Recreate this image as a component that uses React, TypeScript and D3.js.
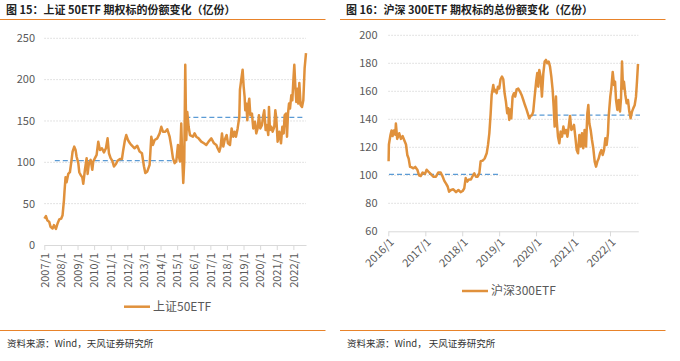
import React, { useEffect, useRef } from "react";
import * as d3 from "d3";

// 上证50ETF 份额（亿份）
const sz50Series: [string, number][] = [
  ["2007-01-04", 32], ["2007-02-06", 35], ["2007-03-07", 30], ["2007-04-20", 28],
  ["2007-05-19", 22], ["2007-07-02", 20], ["2007-08-01", 24], ["2007-09-14", 19.5],
  ["2007-10-20", 26], ["2007-11-26", 31], ["2008-01-09", 32], ["2008-02-07", 36],
  ["2008-03-08", 54], ["2008-03-22", 66], ["2008-04-13", 82], ["2008-05-05", 76],
  ["2008-06-11", 86], ["2008-07-17", 88], ["2008-08-23", 103], ["2008-09-14", 113],
  ["2008-10-21", 119], ["2008-11-19", 115], ["2008-12-11", 107], ["2009-01-18", 99],
  ["2009-02-08", 88], ["2009-03-17", 84], ["2009-04-16", 82], ["2009-05-07", 74],
  ["2009-06-13", 91], ["2009-07-20", 105], ["2009-08-11", 86], ["2009-09-09", 99],
  ["2009-10-16", 103], ["2009-11-22", 91], ["2009-12-13", 101], ["2010-01-19", 105],
  ["2010-02-25", 109], ["2010-04-02", 125], ["2010-05-09", 115], ["2010-06-22", 117],
  ["2010-08-05", 112], ["2010-09-18", 117], ["2010-10-24", 129], ["2010-11-23", 111],
  ["2010-12-30", 105], ["2011-02-04", 102], ["2011-03-13", 95], ["2011-04-26", 98],
  ["2011-06-01", 102], ["2011-07-23", 104], ["2011-09-05", 104], ["2011-10-04", 115],
  ["2011-11-10", 127], ["2011-12-09", 133], ["2012-01-15", 127], ["2012-02-28", 123],
  ["2012-03-28", 121], ["2012-06-09", 117], ["2012-08-07", 120], ["2012-09-27", 113],
  ["2012-11-18", 111], ["2013-01-02", 95], ["2013-01-31", 87], ["2013-03-16", 89],
  ["2013-05-06", 97], ["2013-06-12", 131], ["2013-07-18", 121], ["2013-08-24", 127],
  ["2013-10-22", 129], ["2013-12-12", 135], ["2014-01-18", 143], ["2014-02-23", 137],
  ["2014-04-15", 137], ["2014-05-30", 140], ["2014-07-20", 131], ["2014-08-26", 119],
  ["2014-10-01", 105], ["2014-11-07", 99], ["2014-12-13", 101], ["2015-01-19", 121],
  ["2015-02-10", 107], ["2015-03-04", 101], ["2015-04-02", 147], ["2015-04-24", 105],
  ["2015-05-16", 75], ["2015-06-07", 101], ["2015-06-29", 218], ["2015-07-21", 127],
  ["2015-08-12", 161], ["2015-09-11", 143], ["2015-10-10", 133], ["2015-12-15", 131],
  ["2016-01-20", 135], ["2016-02-26", 131], ["2016-04-17", 129], ["2016-06-15", 125],
  ["2016-08-13", 123], ["2016-10-03", 121], ["2016-11-23", 125], ["2017-01-22", 129],
  ["2017-03-22", 123], ["2017-05-12", 121], ["2017-06-10", 117], ["2017-07-17", 113],
  ["2017-08-15", 119], ["2017-09-14", 135], ["2017-10-13", 119], ["2017-11-11", 127],
  ["2017-12-25", 133], ["2018-01-23", 123], ["2018-03-09", 121], ["2018-04-14", 141],
  ["2018-05-21", 131], ["2018-06-19", 137], ["2018-07-18", 131], ["2018-08-24", 141],
  ["2018-09-30", 155], ["2018-10-14", 188], ["2018-11-12", 200], ["2018-12-12", 212],
  ["2019-01-03", 192], ["2019-01-25", 179], ["2019-02-08", 163], ["2019-03-03", 171],
  ["2019-03-25", 151], ["2019-04-15", 169], ["2019-05-07", 177], ["2019-05-30", 157],
  ["2019-07-05", 159], ["2019-08-03", 141], ["2019-09-09", 149], ["2019-10-08", 135],
  ["2019-11-07", 141], ["2019-12-06", 157], ["2020-01-04", 141], ["2020-02-10", 145],
  ["2020-03-10", 157], ["2020-04-01", 163], ["2020-05-01", 139], ["2020-05-30", 145],
  ["2020-06-28", 133], ["2020-07-13", 167], ["2020-08-04", 139], ["2020-09-03", 143],
  ["2020-10-02", 137], ["2020-11-07", 143], ["2020-11-30", 163], ["2020-12-22", 153],
  ["2021-01-20", 125], ["2021-02-26", 137], ["2021-04-04", 123], ["2021-05-03", 143],
  ["2021-06-02", 135], ["2021-06-23", 157], ["2021-07-23", 159], ["2021-08-14", 131],
  ["2021-09-05", 159], ["2021-09-27", 171], ["2021-10-19", 165], ["2021-11-17", 181],
  ["2021-12-09", 175], ["2022-01-04", 202], ["2022-01-22", 218], ["2022-02-13", 192],
  ["2022-03-07", 173], ["2022-03-29", 189], ["2022-04-20", 171], ["2022-05-12", 196],
  ["2022-06-10", 169], ["2022-07-10", 167], ["2022-08-08", 175], ["2022-09-06", 214],
  ["2022-10-06", 232],
];

// 沪深300ETF 总份额（亿份）
const hs300Series: [string, number][] = [
  ["2016-01-04", 110], ["2016-01-07", 122], ["2016-01-23", 129], ["2016-02-02", 132],
  ["2016-02-12", 128], ["2016-02-25", 132], ["2016-03-10", 129], ["2016-03-16", 137],
  ["2016-03-29", 126], ["2016-04-18", 130], ["2016-05-05", 126], ["2016-05-22", 128],
  ["2016-06-07", 125], ["2016-06-24", 122], ["2016-07-07", 114.5], ["2016-07-20", 112],
  ["2016-08-03", 106], ["2016-08-19", 105.7], ["2016-09-05", 105], ["2016-09-24", 106],
  ["2016-10-14", 104], ["2016-10-31", 100], ["2016-11-16", 99.5], ["2016-12-06", 102],
  ["2016-12-29", 101], ["2017-01-14", 104], ["2017-01-31", 102.6], ["2017-02-23", 101],
  ["2017-03-21", 99], ["2017-04-16", 99], ["2017-05-10", 102], ["2017-06-02", 102],
  ["2017-06-22", 99], ["2017-07-08", 96], ["2017-07-25", 94], ["2017-08-10", 92],
  ["2017-08-24", 88.3], ["2017-09-12", 89.5], ["2017-10-05", 90], ["2017-11-01", 88],
  ["2017-11-24", 89.5], ["2017-12-16", 88], ["2018-01-05", 88.8], ["2018-01-21", 90.7],
  ["2018-02-04", 98], ["2018-02-20", 95.5], ["2018-03-08", 97], ["2018-03-28", 97],
  ["2018-04-14", 99.5], ["2018-04-30", 101.4], ["2018-05-17", 99], ["2018-06-02", 99],
  ["2018-06-19", 101.4], ["2018-07-02", 110], ["2018-07-22", 110.5], ["2018-08-11", 112],
  ["2018-08-31", 115.7], ["2018-09-13", 121.7], ["2018-09-26", 130], ["2018-10-09", 144],
  ["2018-10-19", 157.4], ["2018-11-04", 164.5], ["2018-11-14", 159.8], ["2018-11-27", 161],
  ["2018-12-07", 158.6], ["2018-12-20", 163.3], ["2019-01-02", 162], ["2019-01-15", 168.6],
  ["2019-01-29", 170.5], ["2019-02-11", 168.6], ["2019-02-24", 158.6], ["2019-03-09", 152.6],
  ["2019-03-22", 144.3], ["2019-04-01", 147.9], ["2019-04-11", 139.5], ["2019-04-21", 147],
  ["2019-05-01", 140.7], ["2019-05-14", 156.2], ["2019-05-27", 158.6], ["2019-06-09", 156.2],
  ["2019-06-23", 161.4], ["2019-07-09", 162], ["2019-07-26", 159.8], ["2019-08-11", 157.4],
  ["2019-08-28", 153.8], ["2019-09-13", 150.2], ["2019-09-30", 146.7], ["2019-10-16", 143],
  ["2019-10-26", 140.7], ["2019-11-08", 142.4], ["2019-11-22", 143], ["2019-12-04", 145.5],
  ["2019-12-18", 156.2], ["2020-01-02", 167], ["2020-01-13", 173], ["2020-01-23", 163.3],
  ["2020-02-02", 175.2], ["2020-02-15", 170.5], ["2020-02-28", 156.2], ["2020-03-13", 172.9],
  ["2020-03-26", 181.2], ["2020-04-08", 182.4], ["2020-04-21", 180], ["2020-05-05", 181.2],
  ["2020-05-18", 177.6], ["2020-05-31", 170.5], ["2020-06-13", 161], ["2020-06-23", 149],
  ["2020-07-03", 134.8], ["2020-07-16", 156.2], ["2020-07-23", 139.5], ["2020-08-05", 127.6],
  ["2020-08-18", 122.9], ["2020-08-31", 131.2], ["2020-09-14", 127.6], ["2020-09-27", 134.8],
  ["2020-10-10", 130], ["2020-10-23", 132.4], ["2020-11-06", 127.6], ["2020-11-19", 134.8],
  ["2020-12-02", 142.4], ["2020-12-15", 132.4], ["2020-12-28", 133.6], ["2021-01-10", 136],
  ["2021-01-23", 127.6], ["2021-02-06", 118], ["2021-02-19", 115.7], ["2021-03-04", 128.8],
  ["2021-03-17", 120.5], ["2021-03-30", 130], ["2021-04-12", 119.3], ["2021-04-25", 132.4],
  ["2021-05-09", 120.5], ["2021-05-22", 144.3], ["2021-06-01", 150.2], ["2021-06-11", 137],
  ["2021-06-24", 132.4], ["2021-07-07", 125.2], ["2021-07-20", 119.3], ["2021-08-03", 109.8],
  ["2021-08-16", 106.2], ["2021-08-29", 109.8], ["2021-09-11", 112], ["2021-09-24", 115.7],
  ["2021-10-08", 118], ["2021-10-21", 114.5], ["2021-11-03", 118], ["2021-11-16", 126.4],
  ["2021-11-29", 121.7], ["2021-12-12", 130], ["2021-12-19", 141.9], ["2022-01-04", 156.2],
  ["2022-01-14", 162], ["2022-01-28", 173.8], ["2022-02-10", 164.5], ["2022-02-20", 166.9],
  ["2022-03-02", 153.8], ["2022-03-15", 146.7], ["2022-03-28", 153.8], ["2022-04-10", 145.5],
  ["2022-04-20", 155], ["2022-04-30", 181.2], ["2022-05-10", 162], ["2022-05-19", 166.9],
  ["2022-06-02", 157.4], ["2022-06-15", 151.4], ["2022-06-28", 153.8], ["2022-07-11", 145.5],
  ["2022-07-24", 140.7], ["2022-08-07", 145.5], ["2022-08-20", 148], ["2022-09-02", 150],
  ["2022-09-15", 156], ["2022-09-25", 167], ["2022-10-05", 179.5],
];

// 阶段均值（蓝色虚线）
const sz50Means: [string, string, number][] = [
  ["2007-08-20", "2014-12-25", 102],
  ["2015-07-01", "2022-08-07", 154.5],
];
const hs300Means: [string, string, number][] = [
  ["2016-01-08", "2019-01-08", 100.7],
  ["2019-11-17", "2022-10-25", 142.9],
];

const sz50XLabels = [
  "2007/1", "2008/1", "2009/1", "2010/1", "2011/1", "2012/1", "2013/1", "2014/1",
  "2015/1", "2016/1", "2017/1", "2018/1", "2019/1", "2020/1", "2021/1", "2022/1",
];
const hs300XLabels = ["2016/1", "2017/1", "2018/1", "2019/1", "2020/1", "2021/1", "2022/1"];
const sz50YTicks = [0, 50, 100, 150, 200, 250];
const hs300YTicks = [60, 80, 100, 120, 140, 160, 180, 200];

const ORANGE = "#E0913C";
const RULE = "#E8832A";
const BLUE = "#5B9BD5";
const GRID = "#D9D9D9";
const TEXT = "#595959";
const FONT = "'Noto Sans CJK SC', 'Liberation Sans', sans-serif";

const parseDate = d3.timeParse("%Y-%m-%d");
const labelDate = (s: string) => {
  const [y, m] = s.split("/").map(Number);
  return new Date(y, m - 1, 1);
};

const panels = [
  {
    ox: 0,
    title: "图 15：上证 50ETF 期权标的份额变化（亿份）",
    source: "资料来源：Wind，天风证券研究所",
    legend: "上证50ETF",
    series: sz50Series,
    means: sz50Means,
    xLabels: sz50XLabels,
    yTicks: sz50YTicks,
    xDomain: ["2007-01-01", "2022-10-06"],
    left: 44.3, right: 306, top: 38.3, bottom: 245,
    yLabelX: 35,
    rotate: -90,
    legendX: 124, legendY: 306.7,
  },
  {
    ox: 340,
    title: "图 16：沪深 300ETF 期权标的总份额变化（亿份）",
    source: "资料来源：Wind，  天风证券研究所",
    legend: "沪深300ETF",
    series: hs300Series,
    means: hs300Means,
    xLabels: hs300XLabels,
    yTicks: hs300YTicks,
    xDomain: ["2016-01-01", "2022-10-08"],
    left: 388.3, right: 638.3, top: 35.3, bottom: 231.3,
    yLabelX: 377.5,
    rotate: -45,
    legendX: 462, legendY: 291,
  },
];

const App = () => {
  const svgRef = useRef<SVGSVGElement>(null);

  useEffect(() => {
    const svg = d3.select(svgRef.current);
    svg.selectAll("*").remove();

    svg.append("rect").attr("width", 680).attr("height", 361).attr("fill", "#fff");

    panels.forEach((p) => {
      const g = svg.append("g").style("font-family", FONT);

      const x = d3
        .scaleTime()
        .domain(p.xDomain.map((d) => parseDate(d) as Date))
        .range([p.left, p.right]);
      const y = d3
        .scaleLinear()
        .domain(d3.extent(p.yTicks) as [number, number])
        .range([p.bottom, p.top]);

      // title + rule
      g.append("text")
        .attr("x", p.ox + 6)
        .attr("y", 14)
        .attr("font-size", 11)
        .attr("font-weight", "bold")
        .attr("fill", "#222")
        .text(p.title);
      g.append("line")
        .attr("x1", p.ox).attr("x2", p.ox + 325.5)
        .attr("y1", 19.5).attr("y2", 19.5)
        .attr("stroke", RULE).attr("stroke-width", 1);

      // gridlines
      g.selectAll(".grid")
        .data(p.yTicks.slice(1))
        .enter()
        .append("line")
        .attr("x1", p.left).attr("x2", p.right)
        .attr("y1", (d) => y(d)).attr("y2", (d) => y(d))
        .attr("stroke", GRID)
        .attr("stroke-dasharray", "1.5,1.5");

      // y labels
      g.selectAll(".ylab")
        .data(p.yTicks)
        .enter()
        .append("text")
        .attr("x", p.yLabelX)
        .attr("y", (d) => y(d))
        .attr("dy", "0.35em")
        .attr("text-anchor", "end")
        .attr("font-size", 11)
        .attr("fill", TEXT)
        .text((d) => d);

      // x axis
      const xAxis = g
        .append("g")
        .attr("transform", `translate(0,${p.bottom})`)
        .call(
          d3
            .axisBottom(x)
            .tickValues(p.xLabels.map(labelDate))
            .tickFormat((_, i) => p.xLabels[i])
            .tickSize(5)
            .tickSizeOuter(0)
        );
      xAxis.select(".domain").attr("stroke", GRID);
      xAxis.selectAll(".tick line").attr("stroke", GRID);
      const labels = xAxis
        .selectAll(".tick text")
        .attr("font-family", FONT)
        .attr("font-size", 11)
        .attr("fill", TEXT)
        .attr("text-anchor", "end")
        .attr("x", 0)
        .attr("y", 0)
        .attr("dy", "0.35em");
      if (p.rotate === -90) {
        labels.attr("transform", "translate(0,8) rotate(-90)");
      } else {
        labels.attr("transform", "translate(3,9) rotate(-45)");
      }

      // mean lines
      g.selectAll(".mean")
        .data(p.means)
        .enter()
        .append("line")
        .attr("x1", (d) => x(parseDate(d[0]) as Date))
        .attr("x2", (d) => x(parseDate(d[1]) as Date))
        .attr("y1", (d) => y(d[2]))
        .attr("y2", (d) => y(d[2]))
        .attr("stroke", BLUE)
        .attr("stroke-width", 1.25)
        .attr("stroke-dasharray", "5,3");

      // series
      const line = d3
        .line<[string, number]>()
        .x((d) => x(parseDate(d[0]) as Date))
        .y((d) => y(d[1]));
      g.append("path")
        .datum(p.series)
        .attr("d", line)
        .attr("fill", "none")
        .attr("stroke", ORANGE)
        .attr("stroke-width", 2.5)
        .attr("stroke-linejoin", "round");

      // legend
      g.append("line")
        .attr("x1", p.legendX).attr("x2", p.legendX + 26)
        .attr("y1", p.legendY).attr("y2", p.legendY)
        .attr("stroke", ORANGE).attr("stroke-width", 2.5);
      g.append("text")
        .attr("x", p.legendX + 29)
        .attr("y", p.legendY)
        .attr("dy", "0.35em")
        .attr("font-size", 12)
        .attr("fill", TEXT)
        .text(p.legend);

      // bottom rule + source
      g.append("line")
        .attr("x1", p.ox).attr("x2", p.ox + 325.5)
        .attr("y1", 330.5).attr("y2", 330.5)
        .attr("stroke", RULE).attr("stroke-width", 1);
      g.append("text")
        .attr("x", p.ox + 7)
        .attr("y", 347)
        .attr("font-size", 9.5)
        .attr("fill", "#333")
        .text(p.source);
    });
  }, []);

  return (
    <svg
      ref={svgRef}
      width={680}
      height={361}
      style={{ position: "absolute", left: 0, top: 0 }}
    />
  );
};

export default App;
